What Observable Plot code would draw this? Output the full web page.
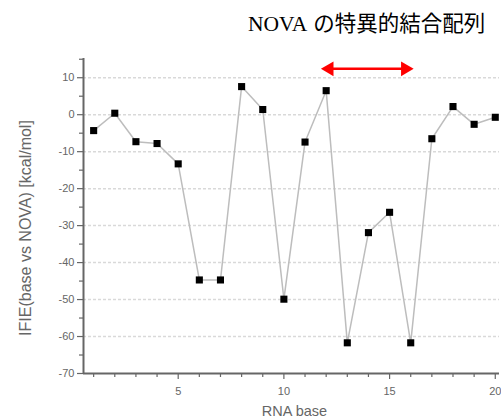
<!DOCTYPE html>
<html>
<head>
<meta charset="utf-8">
<script src="https://cdn.jsdelivr.net/npm/d3@7"></script>
<script src="https://cdn.jsdelivr.net/npm/@observablehq/plot@0.6"></script>
<style>
  body { margin: 0; background: #fff; width: 501px; height: 419px; overflow: hidden; }
  #title { height: 48px; line-height: 48px; padding-left: 248px; font-family: "Liberation Serif", "Noto Sans CJK JP", serif; font-size: 21.5px; color: #000; white-space: nowrap; }
  #title .latin { margin-right: 6px; }
  svg { display: block; }
</style>
</head>
<body>
<div id="title"><span class="latin">NOVA</span><span class="jp">の特異的結合配列</span></div>
<div id="chart"></div>
<script>
const xLabel = "RNA base";
const yLabel = "IFIE(base vs NOVA) [kcal/mol]";
const bases = [1, 2, 3, 4, 5, 6, 7, 8, 9, 10, 11, 12, 13, 14, 15, 16, 17, 18, 19, 20];
const ifie = [-4.3, 0.4, -7.3, -7.8, -13.3, -44.7, -44.7, 7.6, 1.4, -49.9, -7.4, 6.5, -61.7, -31.9, -26.4, -61.7, -6.5, 2.2, -2.6, -0.7];
const xMajorTicks = [5, 10, 15, 20];
const xMinorTicks = [1, 2, 3, 4, 6, 7, 8, 9, 11, 12, 13, 14, 16, 17, 18, 19];
const yMajorTicks = [-70, -60, -50, -40, -30, -20, -10, 0, 10];
const yMinorTicks = [-65, -55, -45, -35, -25, -15, -5, 5, 15];
const yGrid = [-60, -50, -40, -30, -20, -10, 0, 10];
const arrowStart = 11.77;
const arrowEnd = 16.12;
const arrowLevel = 12.4;

const data = bases.map((b, i) => ({base: b, ifie: ifie[i]}));
const xMin = 0.52, xMax = 20.2, yMin = -70, yMax = 15.2;
const axisColor = "#666";

const chart = Plot.plot({
  width: 501,
  height: 371,
  marginTop: 10,
  marginBottom: 46,
  marginLeft: 83,
  marginRight: 2,
  x: {domain: [xMin, xMax]},
  y: {domain: [yMin, yMax]},
  style: {fontFamily: "'Liberation Sans', Arial, sans-serif", color: axisColor, background: "#fff"},
  marks: [
    Plot.ruleY(yGrid, {stroke: "#d9d9d9", strokeWidth: 1.5, strokeDasharray: "3,2"}),
    Plot.axisY(yMajorTicks, {tickSize: 6, tickPadding: 3, fontSize: 11, label: null, stroke: axisColor, strokeWidth: 1.2, tickFormat: d => d}),
    Plot.axisY(yMinorTicks, {tickSize: 4, tickFormat: () => "", label: null, stroke: axisColor, strokeWidth: 1.2}),
    Plot.axisX(xMajorTicks, {tickSize: 6, tickPadding: 8, fontSize: 11, label: null, stroke: axisColor, strokeWidth: 1.2}),
    Plot.axisX(xMinorTicks, {tickSize: 4, tickFormat: () => "", label: null, stroke: axisColor, strokeWidth: 1.2}),
    Plot.ruleX([xMin], {stroke: axisColor, strokeWidth: 2}),
    Plot.ruleY([yMin], {stroke: axisColor, strokeWidth: 2}),
    Plot.line(data, {x: "base", y: "ifie", stroke: "#bdbdbd", strokeWidth: 1.5}),
    Plot.dot(data, {x: "base", y: "ifie", symbol: "square", fill: "#000", r: 4}),
    Plot.ruleY([arrowLevel], {x1: arrowStart, x2: arrowEnd, stroke: "#f00", strokeWidth: 2.5, insetLeft: 8, insetRight: 8}),
    Plot.dot([{x: arrowStart, y: arrowLevel}], {x: "x", y: "y", symbol: "triangle", fill: "#f00", r: 5.4, rotate: -90, dx: 8}),
    Plot.dot([{x: arrowEnd, y: arrowLevel}], {x: "x", y: "y", symbol: "triangle", fill: "#f00", r: 5.4, rotate: 90, dx: -8}),
    Plot.text([yLabel], {frameAnchor: "left", text: d => d, rotate: -90, textAnchor: "middle", lineAnchor: "middle", dx: -58, dy: 12, fontSize: 16, fill: axisColor}),
    Plot.text([xLabel], {frameAnchor: "bottom", text: d => d, textAnchor: "middle", lineAnchor: "middle", dx: 3, dy: 37.5, fontSize: 14.5, fill: axisColor})
  ]
});
document.getElementById("chart").appendChild(chart);
</script>
</body>
</html>
